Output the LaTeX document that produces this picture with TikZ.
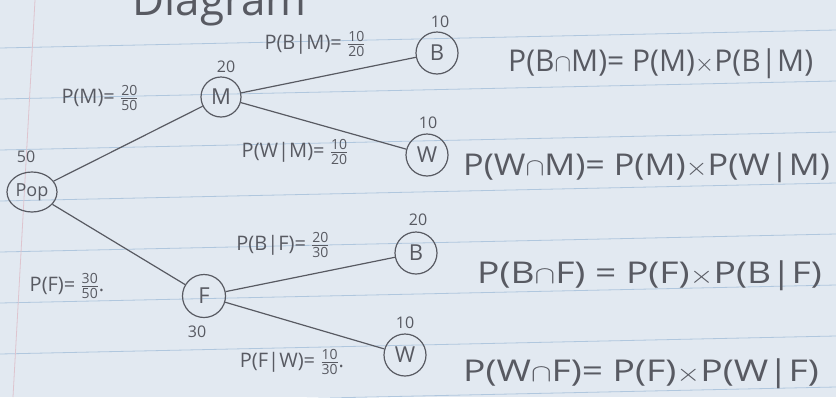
\documentclass[tikz,border=0pt]{standalone}
\usepackage{amsmath}
\usepackage{fontspec}
\setmainfont{Open Sans}
\usetikzlibrary{positioning, calc, shapes.geometric}

\definecolor{paper}{RGB}{226,233,241}
\definecolor{pencil}{RGB}{88,90,98}
\definecolor{ruled}{RGB}{176,199,222}
\definecolor{margin}{RGB}{222,196,206}

\tikzset{
  event/.style={circle, draw=pencil, line width=1.2pt, inner sep=0pt,
    minimum size=42pt, text=pencil, font=\fontsize{22}{22}\selectfont},
  tally/.style={text=pencil, inner sep=1pt, font=\fontsize{16}{16}\selectfont},
  branchlbl/.style={text=pencil, inner sep=1pt, font=\fontsize{20}{22}\selectfont},
  prodrule/.style={text=pencil, inner sep=0pt, anchor=west, font=\fontsize{30}{32}\selectfont},
  ruling/.style={draw=ruled, line width=0.8pt},
  edge/.style={draw=pencil, line width=1.2pt},
}

\begin{document}
\begin{tikzpicture}[x=1pt, y=-1pt]

    % Papier
    \clip (0,0) rectangle (836,397);
    \fill[paper] (0,0) rectangle (836,397);
    \foreach \y in {-3,48,99,150,201,252,303,354,405}
        \draw[ruling] (0,\y) -- (836,\y-18);
    \draw[margin, line width=0.8pt] (35,0) -- (13,397);

    % Nadpis (oriznuty)
    \node[text=pencil, anchor=base east, inner sep=0pt,
          font=\fontsize{44}{44}\selectfont] (title) at (307,15) {Diagram};

    % Uzly stromu
    \node[event, ellipse, minimum width=50pt, minimum height=40pt,
          font=\fontsize{18}{18}\selectfont] (pop) at (32,192) {Pop};
    \node[event, minimum size=40pt] (m) at (221,97) {M};
    \node[event, minimum size=43pt] (f) at (204,296) {F};
    \node[event] (bm) at (437,53) {B};
    \node[event] (wm) at (427,155) {W};
    \node[event] (bf) at (416,253) {B};
    \node[event] (wf) at (405,355) {W};

    % Pocty
    \node[tally] (npop) at (26,157) {50};
    \node[tally] (nm) at (226,67) {20};
    \node[tally] (nf) at (197,332) {30};
    \node[tally] (nbm) at (440,22) {10};
    \node[tally] (nwm) at (428,123) {10};
    \node[tally] (nbf) at (418,220) {20};
    \node[tally] (nwf) at (405,323) {10};

    % Vetve
    \draw[edge] (pop) -- (m);
    \draw[edge] (pop) -- (f);
    \draw[edge] (m) -- (bm);
    \draw[edge] (m) -- (wm);
    \draw[edge] (f) -- (bf);
    \draw[edge] (f) -- (wf);

    % Pravdepodobnosti na vetvich
    \node[branchlbl] (pm) at (100,98) {P(M)= $\frac{\text{20}}{\text{50}}$};
    \node[branchlbl] (pbm) at (315,44) {P(B|M)= $\frac{\text{10}}{\text{20}}$};
    \node[branchlbl] (pwm) at (295,152) {P(W|M)= $\frac{\text{10}}{\text{20}}$};
    \node[branchlbl] (pbf) at (283,245) {P(B|F)= $\frac{\text{20}}{\text{30}}$};
    \node[branchlbl] (pf) at (67,286) {P(F)= $\frac{\text{30}}{\text{50}}$.};
    \node[branchlbl] (pfw) at (292,362) {P(F|W)= $\frac{\text{10}}{\text{30}}$.};

    % Soucinova pravidla
    \node[prodrule] (rbm) at (508,64) {P(B$\cap$M)= P(M)$\times$P(B|M)};
    \node[prodrule] (rwm) at (463,168) {\scalebox{1.14}[1]{P(W$\cap$M)= P(M)$\times$P(W|M)}};
    \node[prodrule] (rbf) at (477,276) {\scalebox{1.24}[1]{P(B$\cap$F) = P(F)$\times$P(B|F)}};
    \node[prodrule] (rwf) at (463,374) {\scalebox{1.24}[1]{P(W$\cap$F)= P(F)$\times$P(W|F)}};

\end{tikzpicture}
\end{document}
